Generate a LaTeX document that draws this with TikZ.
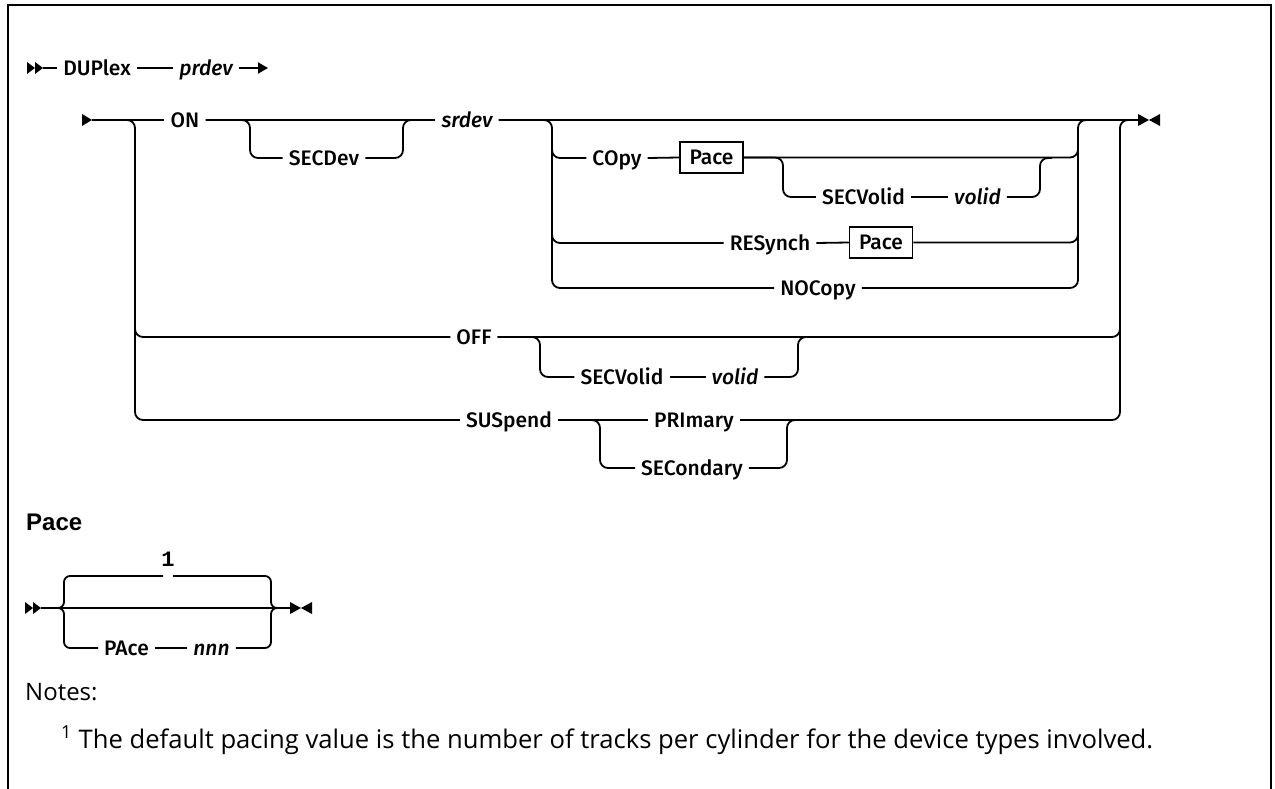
\documentclass[tikz,border=0pt]{standalone}
\usepackage{fontspec}
\setmainfont{Open Sans}
\newfontfamily\labfont{Fira Sans}[UprightFont={* Medium}, ItalicFont={* Medium Italic}]
\newfontfamily\hdfont{Liberation Sans}
\newfontfamily\onefont{Liberation Mono}
\newfontfamily\notefont{Open Sans}
\usetikzlibrary{arrows.meta}
\tikzset{
  pics/dstart/.style={code={\fill (0,-6)--(8,0)--(0,6)--cycle; \fill (8,-6)--(16,0)--(8,6)--cycle;}},
  pics/sstart/.style={code={\fill (0,-6)--(10,0)--(0,6)--cycle;}},
  pics/sendmark/.style={code={\fill (0,-6)--(11,0)--(0,6)--cycle; \fill (22,-6)--(11,0)--(22,6)--cycle;}},
}
\begin{document}
\begin{tikzpicture}[x=1pt,y=-1pt,
  rail/.style={line width=1.8pt},
  rc/.style={rail,rounded corners=8pt},
  rcs/.style={rail,rounded corners=6pt},
  lab/.style={font=\labfont\fontsize{21}{25}\selectfont, inner xsep=6pt, inner ysep=0pt, text height=14.5pt, text depth=0pt},
  labit/.style={lab, font=\labfont\itshape\fontsize{21}{25}\selectfont},
  pbox/.style={lab, draw, line width=1.5pt, minimum width=63pt, minimum height=31pt, inner xsep=3pt},
  note/.style={font=\notefont\fontsize{24}{28}\selectfont, inner sep=0pt},
]
\useasboundingbox (0,0) rectangle (1275,789);
\draw[line width=2.6pt] (8,789) -- (8,5) -- (1271,5) -- (1271,789);

% ---- first line
\pic at (27,68) {dstart};
\coordinate (s0) at (43,68);
\node[lab] (duplex) at (97,68) {DUPlex};
\node[labit] (prdev) at (206,68) {prdev};
\coordinate (a0) at (268,68);
\draw[rail] (s0) -- (duplex.west);
\draw[rail] (duplex.east) -- (prdev.west);
\draw[rail,-{Triangle[length=10pt,width=11pt]}] (prdev.east) -- (a0);

% ---- main diagram nodes
\pic at (82,120) {sstart};
\coordinate (st1) at (92,120);
\node[lab] (on) at (185,120) {ON};
\node[lab] (secdev) at (324,158) {SECDev};
\node[labit] (srdev) at (467,120) {srdev};
\node[lab] (copy) at (617,158) {COpy};
\node[pbox] (pace1) at (711.5,157.5) {Pace};
\node[lab] (secv1) at (863.5,197) {SECVolid};
\node[labit] (volid1) at (977.5,197) {volid};
\node[lab] (resynch) at (770,243) {RESynch};
\node[pbox] (pace2) at (881,242.5) {Pace};
\node[lab] (nocopy) at (818,288) {NOCopy};
\node[lab] (off) at (474,337) {OFF};
\node[lab] (secv2) at (622,377) {SECVolid};
\node[labit] (volid2) at (735,377) {volid};
\node[lab] (sus) at (509,420) {SUSpend};
\node[lab] (prim) at (694,420) {PRImary};
\node[lab] (secd) at (692,468) {SECondary};
\coordinate (en1) at (1138,120);
\pic at (1138,120) {sendmark};

% left main branch
\draw[rc] (st1) -| (135,420) -- (sus.west);
\draw[rail] (st1) -- (on.west);
\draw[rc] (135,300) |- (off.west);
% SECDev
\draw[rail] (on.east) -- (srdev.west);
\draw[rc] (on.east) -| (250,158) -- (secdev.west);
\draw[rc] (secdev.east) -| (403,120) -- (415,120);
% srdev group
\draw[rail] (srdev.east) -- (en1);
\draw[rc] (srdev.east) -| (552,288) -- (nocopy.west);
\draw[rc] (552,140) |- (copy.west);
\draw[rc] (552,220) |- (resynch.west);
\draw[rail] (copy.east) -- (pace1.west);
\draw[rc] (pace1.east) -| (1078,140);
\draw[rc] (pace1.east) -| (783,197) -- (secv1.west);
\draw[rail] (secv1.east) -- (volid1.west);
\draw[rc] (volid1.east) -| (1040,158) -- (1052,158);
\draw[rail] (resynch.east) -- (pace2.west);
\draw[rc] (pace2.east) -| (1078,220);
\draw[rc] (nocopy.east) -| (1078,120) -- (1090,120);
% OFF
\draw[rc] (off.east) -| (1120,300);
\draw[rc] (off.east) -| (540,377) -- (secv2.west);
\draw[rail] (secv2.east) -- (volid2.west);
\draw[rc] (volid2.east) -| (798,337) -- (810,337);
% SUSpend
\draw[rail] (sus.east) -- (prim.west);
\draw[rc] (sus.east) -| (600,468) -- (secd.west);
\draw[rc] (secd.east) -| (787,420) -- (800,420);
\draw[rc] (prim.east) -| (1120,120) -- (en1);

% ---- Pace fragment
\node[font=\hdfont\bfseries\fontsize{24}{28}\selectfont, anchor=base west, inner sep=0pt] (pacehd) at (26,530) {Pace};
\pic at (25,608) {dstart};
\coordinate (ps) at (41,608);
\coordinate (pe) at (290,608);
\draw[rail] (ps) -- (pe);
\node[font=\onefont\bfseries\fontsize{22}{26}\selectfont, inner sep=0pt] (one) at (168,559) {1};
\coordinate (t1) at (163,576);
\coordinate (t2) at (173,576);
\node[lab] (pacekw) at (126.5,648) {PAce};
\node[labit] (nnn) at (211.5,648) {nnn};
\draw[rcs] (58,608) -| (64,576) -- (t1);
\draw[rcs] (t2) -| (271,608) -- (277,608);
\draw[rcs] (58,608) -| (64,648) -- (pacekw.west);
\draw[rail] (pacekw.east) -- (nnn.west);
\draw[rcs] (nnn.east) -| (271,608) -- (277,608);
\pic at (290,608) {sendmark};

% ---- notes
\node[note, anchor=base west] (notes) at (25,700) {Notes:};
\node[note, anchor=base west] (fn) at (61,748) {\resizebox{1092pt}{!}{\textsuperscript{1} The default pacing value is the number of tracks per cylinder for the device types involved.}};
\end{tikzpicture}
\end{document}
